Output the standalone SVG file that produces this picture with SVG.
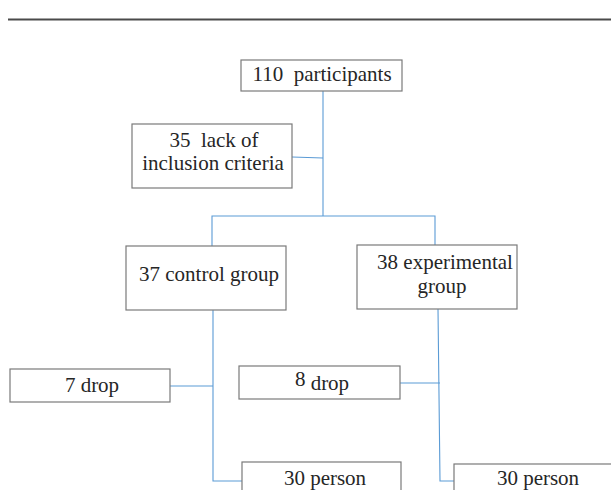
<svg xmlns="http://www.w3.org/2000/svg" width="611" height="490" viewBox="0 0 611 490">
<style>
.box{fill:#fff;stroke:#7a7a7a;stroke-width:1.2}
.t{font-family:"Liberation Serif","DejaVu Serif",serif;font-size:21px;fill:#262626;text-anchor:middle}
.c{fill:none;stroke:#5b9bd5;stroke-width:1.1}
</style>
<rect width="611" height="490" fill="#fff"/>
<line x1="8" y1="19.5" x2="611" y2="19.5" stroke="#4a4a4a" stroke-width="2"/>
<g id="connectors">
<polyline class="c" points="323,91 323,216"/>
<polyline class="c" points="292,157 323,158"/>
<polyline class="c" points="212,246 212,216 435,216 435,245"/>
<polyline class="c" points="213,310 213,481 242,481"/>
<polyline class="c" points="170,386 213,386"/>
<polyline class="c" points="438,309 440,481 454,481"/>
<polyline class="c" points="400,383 440,383"/>
</g>
<g id="n110"><rect class="box" x="241" y="60" width="161" height="31"/><text class="t" x="322" y="81" xml:space="preserve">110  participants</text></g>
<g id="n35"><rect class="box" x="132" y="124" width="160" height="64"/><text class="t" x="214" y="147" xml:space="preserve">35  lack of</text><text class="t" x="213" y="170">inclusion criteria</text></g>
<g id="n37"><rect class="box" x="126" y="246" width="160" height="64"/><text class="t" x="209" y="281">37 control group</text></g>
<g id="n38"><rect class="box" x="357" y="245" width="160" height="64"/><text class="t" x="445" y="269">38 experimental</text><text class="t" x="442" y="293">group</text></g>
<g id="n7"><rect class="box" x="10" y="369" width="160" height="33"/><text class="t" x="92" y="392">7 drop</text></g>
<g id="n8"><rect class="box" x="239" y="366" width="161" height="33"/><text class="t" x="322" y="390"><tspan dy="-4">8</tspan><tspan dy="4"> drop</tspan></text></g>
<g id="n30a"><rect class="box" x="242" y="462" width="159" height="40"/><text class="t" x="325" y="485">30 person</text></g>
<g id="n30b"><rect class="box" x="454" y="464" width="170" height="40"/><text class="t" x="538" y="485">30 person</text></g>
</svg>
